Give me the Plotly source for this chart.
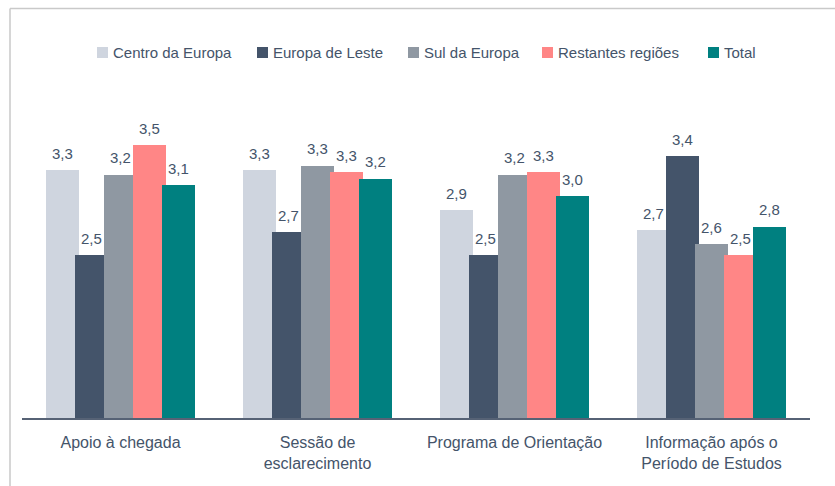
import plotly.graph_objects as go

# Survey scores by support stage and student region
categories = [
    "Apoio à chegada",
    "Sessão de<br>esclarecimento",
    "Programa de Orientação",
    "Informação após o<br>Período de Estudos",
]
series_names = ["Centro da Europa", "Europa de Leste", "Sul da Europa", "Restantes regiões", "Total"]
centro = [3.28, 3.28, 2.91, 2.73]
leste = [2.50, 2.71, 2.50, 3.41]
sul = [3.24, 3.32, 3.24, 2.60]
restantes = [3.51, 3.26, 3.26, 2.50]
total = [3.14, 3.20, 3.04, 2.76]
series_values = [centro, leste, sul, restantes, total]
colors = ["#cfd5df", "#44546a", "#8f98a2", "#ff8686", "#008080"]

TEXT = "#44546a"
FONT = "Liberation Sans, Arial, sans-serif"

W, H = 835, 486
PL, PR, PT, PB = 22, 25, 92, 68
plot_w = W - PL - PR
plot_h = H - PT - PB
unit_px = plot_w / len(categories)


def paper_x(px):
    return (px - PL) / plot_w


def paper_y(py):
    return (H - PB - py) / plot_h


# overlapping clustered bars: each bar 33px wide, stepping 29px
bar_w = 33 / unit_px
step = 29 / unit_px
first = -74.5 / unit_px
xs = list(range(len(categories)))

fig = go.Figure()
annotations = []
for j, (name, vals, col) in enumerate(zip(series_names, series_values, colors)):
    off = first + j * step
    fig.add_trace(go.Bar(
        x=xs, y=vals, name=name, marker=dict(color=col, line=dict(width=0)),
        offset=off, width=bar_w, showlegend=False, hoverinfo="skip",
    ))
    for i, v in zip(xs, vals):
        annotations.append(dict(
            x=i + off + bar_w / 2, y=v, xref="x", yref="y",
            text=f"{v:.1f}".replace(".", ","), showarrow=False,
            xanchor="center", yanchor="middle", yshift=17,
            font=dict(family=FONT, size=15, color=TEXT),
        ))

# legend row drawn along the top
legend_left = [97, 257, 408, 542, 708]
shapes = []
for name, col, lx in zip(series_names, colors, legend_left):
    shapes.append(dict(
        type="rect", xref="paper", yref="paper",
        x0=paper_x(lx), x1=paper_x(lx + 11), y0=paper_y(58), y1=paper_y(47),
        fillcolor=col, line=dict(width=0),
    ))
    annotations.append(dict(
        x=paper_x(lx + 14), y=paper_y(52.5), xref="paper", yref="paper",
        text=name, showarrow=False, xanchor="left", yanchor="middle",
        font=dict(family=FONT, size=15, color=TEXT),
    ))

# outer frame (top and left edges)
frame = dict(color="#c9c9c9", width=1.5)
shapes.append(dict(type="line", xref="paper", yref="paper",
                   x0=paper_x(10), x1=paper_x(W + 5), y0=paper_y(8.5), y1=paper_y(8.5), line=frame))
shapes.append(dict(type="line", xref="paper", yref="paper",
                   x0=paper_x(10), x1=paper_x(10), y0=paper_y(8.5), y1=paper_y(H + 5), line=frame))

fig.update_layout(
    width=W, height=H,
    margin=dict(l=PL, r=PR, t=PT, b=PB),
    paper_bgcolor="white", plot_bgcolor="white",
    barmode="overlay",
    bargap=0,
    showlegend=False,
    annotations=annotations,
    shapes=shapes,
    xaxis=dict(
        range=[-0.5, len(categories) - 0.5],
        tickmode="array", tickvals=xs, ticktext=categories,
        showgrid=False, zeroline=False, ticks="",
        showline=True, linecolor="#566275", linewidth=2,
        tickfont=dict(family=FONT, size=16, color=TEXT),
        ticklabelstandoff=9,
        fixedrange=True,
    ),
    yaxis=dict(range=[1, 4], visible=False, showgrid=False, zeroline=False, fixedrange=True),
)

fig.write_html("out.html", config={"displayModeBar": False})
